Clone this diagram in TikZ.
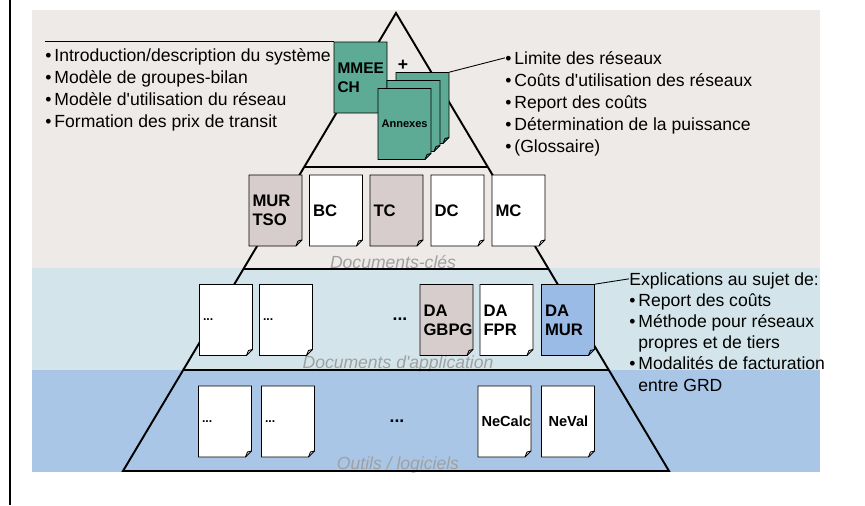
\documentclass[tikz,border=0pt]{standalone}
\usepackage{fontspec}
\setmainfont{Liberation Sans}
\usetikzlibrary{calc}

\definecolor{paper}{HTML}{EEEAE7}
\definecolor{bandcyan}{HTML}{D3E5EA}
\definecolor{bandblue}{HTML}{A9C6E7}
\definecolor{docteal}{HTML}{5DAB94}
\definecolor{docgray}{HTML}{D7CDCD}
\definecolor{docblue}{HTML}{9ABBE5}
\definecolor{levelgray}{HTML}{A0A0A0}

\tikzset{
  pageline/.style={draw=black, line width=0.5pt, line join=miter},
  pagetext/.style={inner xsep=0.07cm, inner ysep=0pt, minimum width=1.06cm,
    minimum height=1.42cm, text width=0.92cm, align=left,
    font=\fontsize{9.5}{11}\selectfont\bfseries},
  bullets/.style={inner sep=0pt, align=left, anchor=north west,
    font=\fontsize{10}{12.5}\selectfont},
  level/.style={font=\fontsize{10}{12}\selectfont\itshape, text=levelgray},
  callout/.style={draw=black, line width=0.5pt},
}

% page with folded corner: name, centre x, centre y, fill, label
\newcommand{\docpage}[5]{%
  \filldraw[pageline, fill=#4] (#2-26.5,#3-35.5) -- (#2+26.5,#3-35.5)
    -- (#2+26.5,#3+29.5) -- (#2+20.5,#3+35.5) -- (#2-26.5,#3+35.5) -- cycle;
  \draw[pageline] (#2+26.5,#3+29.5) -- (#2+22.5,#3+30.5) -- (#2+20.5,#3+35.5);
  \node[pagetext] (#1) at (#2,#3) {#5};
}
\newcommand{\bul}{\textbullet\,}

\begin{document}
\begin{tikzpicture}[x=0.02cm, y=-0.02cm]
\useasboundingbox (0,0) rectangle (865,505);
\fill[white] (0,0) rectangle (865,505);
% bands
\fill[paper] (32,10) rectangle (820,268);
\fill[bandcyan] (32,268) rectangle (820,370);
\fill[bandblue] (32,370) rectangle (820,472);
\draw[line width=0.6pt] (10,0) -- (10,505);

% level names
\node[level] (keylabel) at (393,262) {Documents-clés};
\node[level] (applabel) at (398,364) {Documents d\textquotesingle application};
\node[level] (toollabel) at (398,465) {Outils / logiciels};

% pyramid
\coordinate (apex) at (396,13);
\coordinate (bl) at (123,471);
\coordinate (br) at (669,471);
\draw[line width=1.1pt, line join=miter] (apex) -- (bl) -- (br) -- cycle;
\foreach \f in {0.3362,0.5590,0.7795}
  \draw[line width=0.9pt] ($(apex)!\f!(bl)$) -- ($(apex)!\f!(br)$);

% top
\docpage{mmee}{360.5}{77.5}{docteal}{\fontsize{8.8}{10.5}\selectfont MMEE\\CH}
\node[font=\fontsize{10}{12}\selectfont\bfseries] (plus) at (403,65) {+};
\docpage{annexback}{422.5}{108}{docteal}{}
\docpage{annexmid}{413.5}{116}{docteal}{}
\docpage{annexes}{404.5}{124}{docteal}{\fontsize{6.3}{7}\selectfont Annexes}

% key documents
\docpage{murtso}{275.5}{210.5}{docgray}{MUR\\TSO}
\docpage{bc}{336}{210.5}{white}{BC}
\docpage{tc}{396.5}{210.5}{docgray}{TC}
\docpage{dc}{457.5}{210.5}{white}{DC}
\docpage{mc}{518.5}{210.5}{white}{MC}

% application documents
\docpage{appa}{226}{320}{white}{\fontsize{7}{8}\selectfont...}
\docpage{appb}{286}{320}{white}{\fontsize{7}{8}\selectfont...}
\node[font=\fontsize{10}{12}\selectfont\bfseries] (appdots) at (400,319) {...};
\docpage{dagbpg}{446.5}{320}{docgray}{DA\\GBPG}
\docpage{dafpr}{506.5}{320}{white}{DA\\FPR}
\docpage{damur}{568}{320}{docblue}{DA\\MUR}

% tools
\docpage{toola}{225}{421.5}{white}{\fontsize{7}{8}\selectfont...}
\docpage{toolb}{288}{421.5}{white}{\fontsize{7}{8}\selectfont...}
\node[font=\fontsize{10}{12}\selectfont\bfseries] (tooldots) at (397,421) {...};
\docpage{necalc}{504.5}{421.5}{white}{\fontsize{8.3}{10}\selectfont NeCalc}
\docpage{neval}{568}{421.5}{white}{\fontsize{8.3}{10}\selectfont\hspace*{2pt}NeVal}

% lists
\node[bullets] (intro) at (45,48.5) {\bul Introduction/description du système\\
  \bul Modèle de groupes-bilan\\
  \bul Modèle d\textquotesingle utilisation du réseau\\
  \bul Formation des prix de transit};
\node[bullets] (limits) at (505,51.5) {\bul Limite des réseaux\\
  \bul Coûts d\textquotesingle utilisation des réseaux\\
  \bul Report des coûts\\
  \bul Détermination de la puissance\\
  \bul (Glossaire)};
\node[bullets, font=\fontsize{10}{12}\selectfont] (explic) at (629,272.5)
  {Explications au sujet de:\\
  \bul Report des coûts\\
  \bul Méthode pour réseaux\\
  \phantom{\bul}propres et de tiers\\
  \bul Modalités de facturation\\
  \phantom{\bul}entre GRD};

% callouts
\draw[callout] (mmee.north west) -- (intro.north west |- mmee.north west);
\draw[callout] (annexback.north east) -- ([yshift=-3.6pt]limits.north west);
\draw[callout] (damur.north east) -- ([yshift=-3.6pt]explic.north west);
\end{tikzpicture}
\end{document}
